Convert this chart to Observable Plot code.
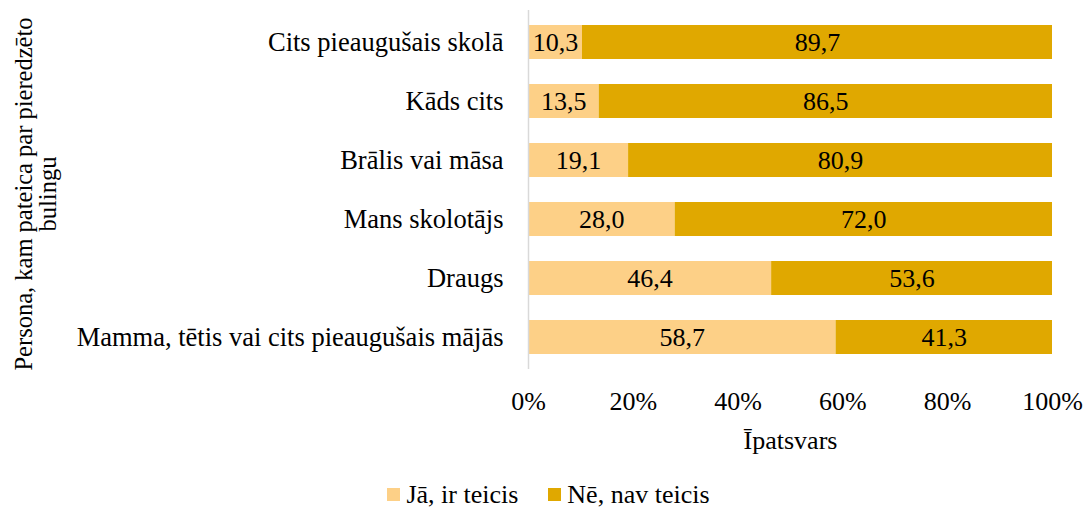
<!DOCTYPE html>
<html><head><meta charset="utf-8">
<script src="https://cdn.jsdelivr.net/npm/d3@7"></script>
<script src="https://cdn.jsdelivr.net/npm/@observablehq/plot@0.6"></script>
<style>
body{margin:0;background:#fff;font-family:'Liberation Serif';}
#chart{width:1083px;height:460px;}
#legend{width:1083px;box-sizing:border-box;padding-left:14px;display:flex;justify-content:center;margin-top:18px;}
#legend span{margin-right:30px !important;}
#legend span:last-child{margin-right:0 !important;}
#legend svg{margin-right:6px !important;}
</style></head><body><div id="chart"></div><div id="legend"></div>
<script>
const categories = ["Cits pieaugušais skolā", "Kāds cits", "Brālis vai māsa", "Mans skolotājs", "Draugs", "Mamma, tētis vai cits pieaugušais mājās"];
const seriesNames = ["Jā, ir teicis", "Nē, nav teicis"];
const yesValues = [10.3, 13.5, 19.1, 28.0, 46.4, 58.7];
const noValues = [89.7, 86.5, 80.9, 72.0, 53.6, 41.3];
const xTicks = [0, 20, 40, 60, 80, 100];
const colors = ["#FDD087", "#E0A800"];
const xTitle = "Īpatsvars";
const yTitle = "Persona, kam pateica par pieredzēto\nbulingu";

const data = categories.flatMap((c, i) => [
  {category: c, series: seriesNames[0], value: yesValues[i]},
  {category: c, series: seriesNames[1], value: noValues[i]}
]);
const fmt = v => v.toFixed(1).replace(".", ",");
const FS = 26;
const FONT = "'Liberation Serif'";
const inlineFont = `font-family:${FONT}`;

const plot = Plot.plot({
  width: 1083, height: 460,
  marginTop: 10, marginBottom: 91, marginLeft: 528, marginRight: 31,
  style: {fontSize: FS + "px", color: "#000", background: "#fff"},
  x: {domain: [0, 100], label: null},
  y: {domain: categories, paddingInner: 0.42, paddingOuter: 0.21, label: null},
  color: {domain: seriesNames, range: colors},
  marks: [
    Plot.barX(data, Plot.stackX({x: "value", y: "category", fill: "series", order: seriesNames})),
    Plot.ruleX([0], {stroke: "#D9D9D9", strokeWidth: 1.5}),
    Plot.text(data, Plot.stackX({x: "value", y: "category", z: "series", order: seriesNames, text: d => fmt(d.value), fill: "#000", fontSize: FS})),
    Plot.axisX({ticks: xTicks, tickFormat: d => d + "%", tickSize: 0, tickPadding: 22.5, label: null, fontSize: FS}),
    Plot.axisY({tickSize: 0, tickPadding: 25, label: null, fontSize: 26.5}),
    Plot.text([xTitle], {frameAnchor: "bottom", lineAnchor: "bottom", dy: 79.5, fontSize: FS, fill: "#000"}),
    Plot.text([yTitle], {frameAnchor: "left", rotate: -90, dx: -514, dy: 4, lineAnchor: "top", lineHeight: 1.0, textAnchor: "middle", fontSize: 24.5, fill: "#000"})
  ]
});
plot.setAttribute("style", `background:#fff;color:#000;font-size:${FS}px;${inlineFont}`);
plot.querySelectorAll("g, text, tspan").forEach(el => el.setAttribute("style", (el.getAttribute("style") || "") + ";" + inlineFont));
document.getElementById("chart").appendChild(plot);

const legend = Plot.legend({
  color: {domain: seriesNames, range: colors},
  legend: "swatches", swatchSize: 13
});
legend.setAttribute("style", `${inlineFont};font-size:${FS}px;color:#000`);
legend.querySelectorAll("span").forEach(el => el.setAttribute("style", (el.getAttribute("style") || "") + `;${inlineFont};font-size:${FS}px`));
document.getElementById("legend").appendChild(legend);
</script></body></html>
